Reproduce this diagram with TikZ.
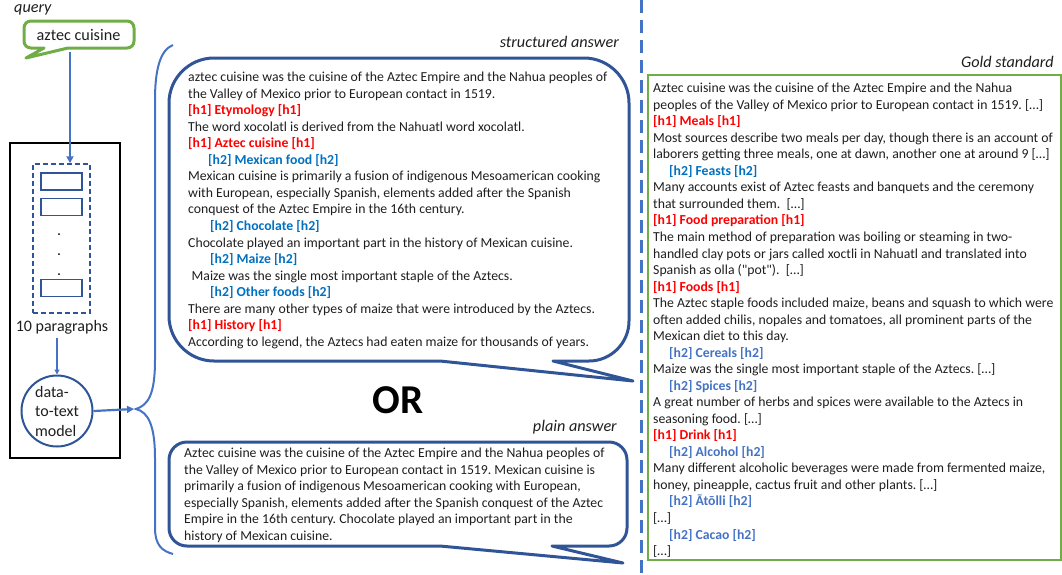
\documentclass[tikz,border=0pt]{standalone}
\usepackage{fontspec}
\setmainfont{Carlito}
\usetikzlibrary{arrows.meta}
\definecolor{bubble}{HTML}{2F5597}
\definecolor{accent}{HTML}{4472C4}
\definecolor{hone}{HTML}{FF0000}
\definecolor{htwo}{HTML}{0070C0}
\definecolor{htwob}{HTML}{4472C4}
\definecolor{qgreen}{HTML}{70AD47}
\definecolor{bodytxt}{HTML}{1E1E1E}
\lineskiplimit=-20pt
\frenchspacing
\newcommand{\hA}[1]{\textcolor{hone}{\textbf{#1}}}
\newcommand{\hB}[1]{\textcolor{htwo}{\textbf{#1}}}
\newcommand{\hC}[1]{\textcolor{htwob}{\textbf{#1}}}
\newcommand{\fstrut}{\rule{0pt}{11.5pt}}
\tikzset{
  bodytext/.style={font=\fontsize{13.75}{16.53}\selectfont, align=left, inner sep=0pt, anchor=north west, text=bodytxt},
  label/.style={font=\fontsize{16.2}{18}\selectfont\itshape, inner sep=0pt, text=bodytxt},
  smallbox/.style={draw=bubble, line width=1.5pt, minimum width=41pt, minimum height=17pt, inner sep=0pt},
  bubbleline/.style={draw=bubble, line width=3pt, line join=round},
  arr/.style={draw=accent, -{Triangle[length=7pt,width=7pt]}},
}
\begin{document}
\begin{tikzpicture}[x=1pt,y=-1pt]
\useasboundingbox (0,0) rectangle (1062,574);

% ---------- left column ----------
\node[label, anchor=west] (qlabel) at (14,10) {query};
\draw[qgreen, line width=3pt, line join=round]
  (31,21) -- (127,21) .. controls (131,21) and (134,24) .. (134,28) -- (134,41)
  .. controls (134,45) and (131,48) .. (127,48) -- (68,48) -- (26,58) -- (44,48) -- (31,48)
  .. controls (27,48) and (24,45) .. (24,41) -- (24,28) .. controls (24,24) and (27,21) .. (31,21) -- cycle;
\node[font=\fontsize{16.2}{18}\selectfont, text=bodytxt, inner sep=0pt] (q) at (78.5,35) {aztec cuisine};

\node[draw=black, line width=1.5pt, minimum width=110pt, minimum height=315pt, inner sep=0pt] (pipe) at (65,300.5) {};
\node[draw=bubble, line width=1.5pt, dash pattern=on 5pt off 3pt, minimum width=57pt, minimum height=149pt, inner sep=0pt] (docs) at (61.5,238.5) {};
\node[smallbox] (p1) at (61.5,181.5) {};
\node[smallbox] (p2) at (61.5,207) {};
\node[smallbox] (p3) at (61.5,288) {};
\node[circle, fill=black, inner sep=0pt, minimum size=2pt] (d1) at (59,234) {};
\node[circle, fill=black, inner sep=0pt, minimum size=2pt] (d2) at (59,254) {};
\node[circle, fill=black, inner sep=0pt, minimum size=2pt] (d3) at (59,274) {};

\coordinate (qa) at (70,52);
\draw[arr, line width=2.5pt] (qa) -- (qa |- docs.north) ;

\node[font=\fontsize{16}{18}\selectfont, text=bodytxt, inner sep=0pt] (ten) at (62,327) {10 paragraphs};
\node[circle, draw=bubble, line width=2pt, minimum size=71pt, inner sep=0pt,
      font=\fontsize{16}{19.5}\selectfont, text=bodytxt, align=left] (model) at (57,411) {data-\\to-text\\model};
\draw[arr, line width=1.2pt, -{Triangle[length=5pt,width=5pt]}] (57,338) -- (model.north);

% brace
\coordinate (btip) at (136,409);
\draw[accent, line width=2pt]
  (173,45) .. controls (160,50) and (155,70) .. (155,100) -- (155,360)
  .. controls (155,395) and (148,405) .. (btip)
  .. controls (148,412) and (155,425) .. (155,458) -- (155,528)
  .. controls (155,545) and (162,551) .. (173,554);
\draw[arr, line width=2.2pt] (model.east) -- ([xshift=-2pt]btip);

% ---------- structured answer ----------
\node[label, anchor=east] (slabel) at (619,42) {structured answer};
\draw[bubbleline]
  (214,58) -- (584,58) .. controls (608.8,58) and (629,78.2) .. (629,103) -- (629,321)
  .. controls (629,343) and (611,361) .. (589,361) -- (553,361) -- (633,381) -- (440,361) -- (214,361)
  .. controls (189.2,361) and (169,340.8) .. (169,316) -- (169,103)
  .. controls (169,78.2) and (189.2,58) .. (214,58) -- cycle;
\node[bodytext] (stext) at (188,70) {\fstrut aztec cuisine was the cuisine of the Aztec Empire and the Nahua peoples of\\
the Valley of Mexico prior to European contact in 1519.\\
\hA{[h1] Etymology [h1]}\\
The word xocolatl is derived from the Nahuatl word xocolatl.\\
\hA{[h1] Aztec cuisine [h1]}\\
\hspace*{20pt}\hB{[h2] Mexican food [h2]}\\
Mexican cuisine is primarily a fusion of indigenous Mesoamerican cooking\\
with European, especially Spanish, elements added after the Spanish\\
conquest of the Aztec Empire in the 16th century.\\
\hspace*{22pt}\hB{[h2] Chocolate [h2]}\\
Chocolate played an important part in the history of Mexican cuisine.\\
\hspace*{22pt}\hB{[h2] Maize [h2]}\\
\hspace*{3.5pt}Maize was the single most important staple of the Aztecs.\\
\hspace*{22pt}\hB{[h2] Other foods [h2]}\\
There are many other types of maize that were introduced by the Aztecs.\\
\hA{[h1] History [h1]}\\
According to legend, the Aztecs had eaten maize for thousands of years.};

\node[font=\fontsize{41}{44}\selectfont\bfseries, text=black, inner sep=0pt] (or) at (398,400) {OR};

% ---------- plain answer ----------
\node[label, anchor=east] (plabel) at (617,427) {plain answer};
\draw[bubbleline]
  (187,442) -- (609,442) .. controls (619,442) and (627,450) .. (627,460) -- (627,528)
  .. controls (627,538) and (619,546) .. (609,546) -- (552,546) -- (623,563) -- (440,546) -- (187,546)
  .. controls (177,546) and (169,538) .. (169,528) -- (169,460)
  .. controls (169,450) and (177,442) .. (187,442) -- cycle;
\node[bodytext] (ptext) at (184,446) {\fstrut Aztec cuisine was the cuisine of the Aztec Empire and the Nahua peoples of\\
the Valley of Mexico prior to European contact in 1519. Mexican cuisine is\\
primarily a fusion of indigenous Mesoamerican cooking with European,\\
especially Spanish, elements added after the Spanish conquest of the Aztec\\
Empire in the 16th century. Chocolate played an important part in the\\
history of Mexican cuisine.};

% ---------- divider ----------
\coordinate (dtop) at (641,0);
\coordinate (dbot) at (641,574);
\draw[accent, line width=3pt, dash pattern=on 13pt off 7pt] (dtop) -- (dbot);

% ---------- gold standard ----------
\node[label, anchor=east] (glabel) at (1054,62) {Gold standard};
\node[draw=qgreen, line width=2pt, minimum width=413pt, minimum height=485pt, inner sep=0pt] (gold) at (854,317.5) {};
\node[bodytext] (gtext) at (653,81) {\fstrut Aztec cuisine was the cuisine of the Aztec Empire and the Nahua\\
peoples of the Valley of Mexico prior to European contact in 1519. […]\\
\hA{[h1] Meals [h1]}\\
Most sources describe two meals per day, though there is an account of\\
laborers getting three meals, one at dawn, another one at around 9 […]\\
\hspace*{16pt}\hB{[h2] Feasts [h2]}\\
Many accounts exist of Aztec feasts and banquets and the ceremony\\
that surrounded them.\ \ […]\\
\hA{[h1] Food preparation [h1]}\\
The main method of preparation was boiling or steaming in two-\\
handled clay pots or jars called xoctli in Nahuatl and translated into\\
Spanish as olla (\textquotedbl pot\textquotedbl).\ \ […]\\
\hA{[h1] Foods [h1]}\\
The Aztec staple foods included maize, beans and squash to which were\\
often added chilis, nopales and tomatoes, all prominent parts of the\\
Mexican diet to this day.\\
\hspace*{16pt}\hC{[h2] Cereals [h2]}\\
Maize was the single most important staple of the Aztecs. […]\\
\hspace*{16pt}\hC{[h2] Spices [h2]}\\
A great number of herbs and spices were available to the Aztecs in\\
seasoning food. […]\\
\hA{[h1] Drink [h1]}\\
\hspace*{16pt}\hC{[h2] Alcohol [h2]}\\
Many different alcoholic beverages were made from fermented maize,\\
honey, pineapple, cactus fruit and other plants. […]\\
\hspace*{16pt}\hC{[h2] Ātōlli [h2]}\\
{[…]}\\
\hspace*{16pt}\hC{[h2] Cacao [h2]}\\
{[…]}};
\end{tikzpicture}
\end{document}
